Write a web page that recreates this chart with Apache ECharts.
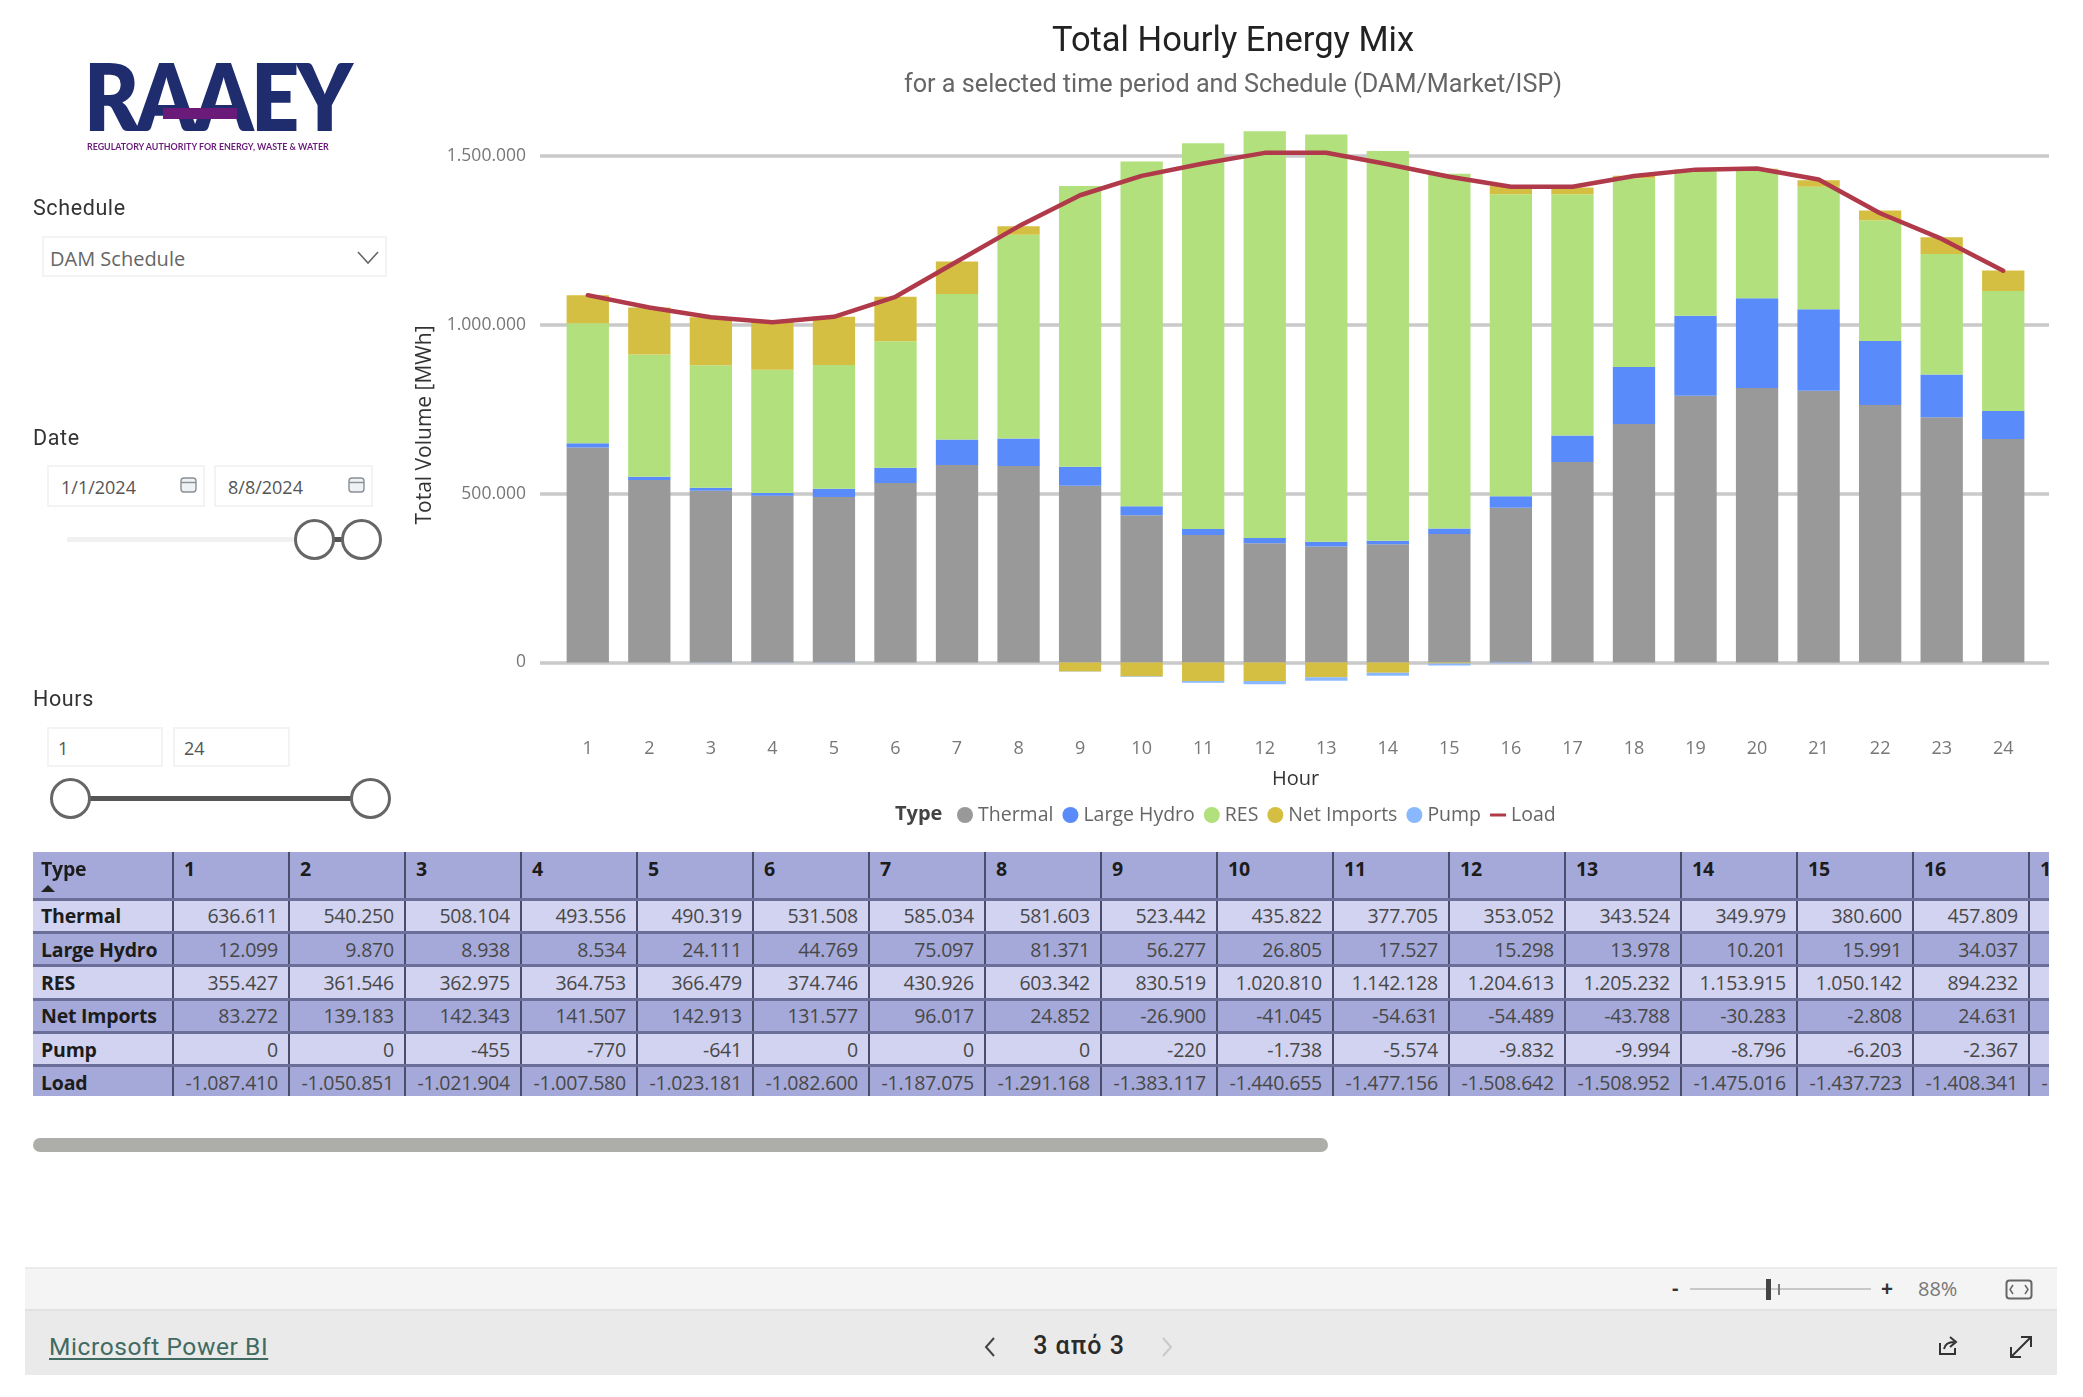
<!DOCTYPE html>
<html>
<head>
<meta charset="utf-8">
<title>Total Hourly Energy Mix</title>
<script src="https://cdn.jsdelivr.net/npm/echarts@6/dist/echarts.min.js"></script>
<style>
  html, body { margin: 0; padding: 0; background: #fff; width: 2083px; height: 1397px; overflow: hidden; }
  body { position: relative; font-family: "Open Sans", sans-serif; color: #444; }
  #chart { position: absolute; left: 0; top: 0; width: 2083px; height: 850px; }
  .abs { position: absolute; white-space: nowrap; }
  .slicer-title { font-family: Roboto, sans-serif; font-size: 21.5px; color: #333; letter-spacing: .6px; left: 33px; line-height: 26px; }
  .box { box-sizing: border-box; border: 2px solid #f3f3f3; background: #fff; font-size: 18px; color: #555; display: flex; align-items: center; padding-top: 2px; }
  .knob { box-sizing: border-box; width: 41px; height: 41px; border-radius: 50%; border: 3px solid #666; background: #fff; }
  /* table */
  #tableWrap { position: absolute; left: 33px; top: 852px; width: 2016px; height: 244px; overflow: hidden; }
  #dataTable { border-collapse: collapse; table-layout: fixed; width: 2112px; font-size: 19.5px; letter-spacing: -.2px; }
  #dataTable td, #dataTable th { box-sizing: border-box; padding: 0 10px 0 0; border-right: 2px solid #4a4d6a; border-bottom: 3px solid #6a6e98; height: 33.4px; text-align: right; color: #484848; font-weight: 400; overflow: hidden; white-space: nowrap; }
  #dataTable tr.dark td { background: #a5a9d9; }
  #dataTable tr.light td { background: #d2d3f0; }
  #dataTable tr:last-child td { border-bottom: none; height: 32px; }
  #dataTable th { background: #a5a9d9; height: 47px; text-align: left; vertical-align: top; padding: 3px 0 0 10px; font-weight: 700; color: #1c1c1c; }
  #dataTable .first { text-align: left; padding-left: 8px; font-weight: 700; color: #1c1c1c; }
  #dataTable th.first { position: relative; }
  .sort { position: absolute; left: 8px; top: 33px; width: 0; height: 0; border-left: 7px solid transparent; border-right: 7px solid transparent; border-bottom: 7px solid #222; }
</style>
</head>
<body>

<div id="chart"></div>

<!-- logo -->
<div class="abs" style="left:84px;top:45px;font:800 93px/100px Lato,sans-serif;color:#1f2d6e;letter-spacing:-3px;transform:scaleX(.905);transform-origin:left">RAAEY</div>
<div class="abs" style="left:163px;top:108px;width:74px;height:11px;background:#6a1b7a"></div>
<div class="abs" style="left:87px;top:141px;font:700 8.9px/12px Lato,sans-serif;color:#6a1b7a">REGULATORY AUTHORITY FOR ENERGY, WASTE &amp; WATER</div>

<!-- schedule -->
<div class="abs slicer-title" style="top:195px">Schedule</div>
<div class="abs box" style="left:42px;top:236px;width:345px;height:41px;padding-left:6px;padding-top:4px;font-size:20px;color:#666">DAM Schedule</div>
<svg class="abs" style="left:356px;top:250px" width="24" height="16"><path d="M2 2 L12 13 L22 2" fill="none" stroke="#666" stroke-width="1.6"/></svg>

<!-- date -->
<div class="abs slicer-title" style="top:425px">Date</div>
<div class="abs box" style="left:47px;top:465px;width:158px;height:42px;padding-left:12px">1/1/2024</div>
<div class="abs box" style="left:214px;top:465px;width:159px;height:42px;padding-left:12px">8/8/2024</div>
<svg class="abs" style="left:180px;top:477px" width="17" height="16"><rect x="1" y="1" width="15" height="14" rx="3" fill="#eef2f4" stroke="#8a8f96" stroke-width="1.4"/><path d="M1 5.5H16" stroke="#8a8f96" stroke-width="1.4"/></svg>
<svg class="abs" style="left:348px;top:477px" width="17" height="16"><rect x="1" y="1" width="15" height="14" rx="3" fill="#eef2f4" stroke="#8a8f96" stroke-width="1.4"/><path d="M1 5.5H16" stroke="#8a8f96" stroke-width="1.4"/></svg>
<div class="abs" style="left:67px;top:537px;width:230px;height:5px;background:#f1f1f1"></div>
<div class="abs" style="left:330px;top:537px;width:20px;height:5px;background:#555"></div>
<div class="abs knob" style="left:294px;top:519px"></div>
<div class="abs knob" style="left:341px;top:519px"></div>

<!-- hours -->
<div class="abs slicer-title" style="top:686px">Hours</div>
<div class="abs box" style="left:47px;top:727px;width:116px;height:40px;padding-left:9px">1</div>
<div class="abs box" style="left:173px;top:727px;width:117px;height:40px;padding-left:9px">24</div>
<div class="abs" style="left:85px;top:796px;width:270px;height:5px;background:#555"></div>
<div class="abs knob" style="left:50px;top:778px"></div>
<div class="abs knob" style="left:350px;top:778px"></div>

<!-- table -->
<div id="tableWrap"><table id="dataTable"></table></div>
<div class="abs" style="left:33px;top:1138px;width:1295px;height:14px;border-radius:7px;background:#adadaa"></div>

<!-- bottom bars -->
<div class="abs" style="left:25px;top:1267px;width:2032px;height:42px;background:#f4f4f4;border-top:2px solid #ebebeb;box-sizing:border-box"></div>
<div class="abs" style="left:25px;top:1309px;width:2032px;height:66px;background:#eaeaea;border-top:2px solid #e2e2e2;box-sizing:border-box"></div>
<div class="abs" style="left:1672px;top:1274px;font-size:20px;line-height:28px;color:#333;font-weight:700">-</div>
<div class="abs" style="left:1690px;top:1288px;width:181px;height:2px;background:#c8c8c8"></div>
<div class="abs" style="left:1766px;top:1279px;width:5px;height:21px;background:#444"></div>
<div class="abs" style="left:1778px;top:1284px;width:2px;height:11px;background:#777"></div>
<div class="abs" style="left:1881px;top:1274px;font-size:21px;line-height:28px;color:#333;font-weight:700">+</div>
<div class="abs" style="left:1918px;top:1276px;font-size:20px;line-height:26px;color:#777">88%</div>
<svg class="abs" style="left:2005px;top:1279px" width="28" height="21"><rect x="1.5" y="1.5" width="25" height="18" rx="3" fill="none" stroke="#666" stroke-width="2"/><path d="M8 6 L5 10.5 L8 15 M20 6 L23 10.5 L20 15" fill="none" stroke="#666" stroke-width="1.5"/></svg>
<div class="abs" style="left:49px;top:1331px;font:24.5px/32px Roboto,sans-serif;letter-spacing:.6px;color:#3f6b63;text-decoration:underline;text-underline-offset:3px">Microsoft Power BI</div>
<svg class="abs" style="left:983px;top:1335px" width="14" height="24"><path d="M11 3 L3 12 L11 21" fill="none" stroke="#444" stroke-width="2"/></svg>
<div class="abs" style="left:1029px;top:1331px;width:100px;text-align:center;font:500 25px/30px Roboto,sans-serif;letter-spacing:1px;color:#2b2b2b">3 από 3</div>
<svg class="abs" style="left:1160px;top:1335px" width="14" height="24"><path d="M3 3 L11 12 L3 21" fill="none" stroke="#c9c9c9" stroke-width="2"/></svg>
<svg class="abs" style="left:1936px;top:1334px" width="24" height="24"><path d="M4 9 V20 H19 V14" fill="none" stroke="#333" stroke-width="2"/><path d="M8 15 C9 10 13 8 18 8 M14 3 L20 8 L14 13" fill="none" stroke="#333" stroke-width="2"/></svg>
<svg class="abs" style="left:2008px;top:1334px" width="26" height="26"><path d="M3 23 L23 3 M13 3 H23 V13 M3 13 V23 H13" fill="none" stroke="#333" stroke-width="2"/></svg>

<script>
// x axis
var hours = ['1', '2', '3', '4', '5', '6', '7', '8', '9', '10', '11', '12', '13', '14', '15', '16', '17', '18', '19', '20', '21', '22', '23', '24'];
var thermal = [636611, 540250, 508104, 493556, 490319, 531508, 585034, 581603, 523442, 435822, 377705, 353052, 343524, 349979, 380600, 457809, 593700, 706000, 790000, 812600, 804400, 762300, 726000, 661600];
var largeHydro = [12099, 9870, 8938, 8534, 24111, 44769, 75097, 81371, 56277, 26805, 17527, 15298, 13978, 10201, 15991, 34037, 78400, 168600, 236500, 265800, 241300, 189700, 126500, 83000];
var res = [355427, 361546, 362975, 364753, 366479, 374746, 430926, 603342, 830519, 1020810, 1142128, 1204613, 1205232, 1153915, 1050142, 894232, 714000, 558600, 428600, 380000, 363000, 357000, 357000, 354800];
var netImports = [83272, 139183, 142343, 141507, 142913, 131577, 96017, 24852, -26900, -41045, -54631, -54489, -43788, -30283, -2808, 24631, 20000, 8000, 4000, 3000, 18700, 29300, 49000, 61000];
var pump = [0, 0, -455, -770, -641, 0, 0, 0, -220, -1738, -5574, -9832, -9994, -8796, -6203, -2367, 0, 0, 0, 0, 0, 0, 0, 0];
var load = [1087410, 1050851, 1021904, 1007580, 1023181, 1082600, 1187075, 1291168, 1383117, 1440655, 1477156, 1508642, 1508952, 1475016, 1437723, 1408341, 1408600, 1440000, 1459000, 1462500, 1429700, 1330000, 1254000, 1160000];

var yTicks = [0, 500000, 1000000, 1500000];
var tableColumns = 17; // the table is cut off by its scrollbar in the 17th hour

// 1.500.000 style numbers
function fmt(v) {
  var s = String(Math.abs(v)).replace(/\B(?=(\d{3})+(?!\d))/g, '.');
  return v < 0 ? '-' + s : s;
}

// table under the chart
function buildTable() {
  var rows = [
    ['Thermal', thermal, 1],
    ['Large Hydro', largeHydro, 1],
    ['RES', res, 1],
    ['Net Imports', netImports, 1],
    ['Pump', pump, 1],
    ['Load', load, -1] // the table lists load as negative
  ];
  var html = '<colgroup><col style="width:140px">';
  for (var c = 0; c < tableColumns; c++) html += '<col style="width:116px">';
  html += '</colgroup><tr><th class="first">Type<span class="sort"></span></th>';
  for (var i = 0; i < tableColumns; i++) html += '<th>' + hours[i] + '</th>';
  html += '</tr>';
  rows.forEach(function (row, r) {
    html += '<tr class="' + (r % 2 ? 'dark' : 'light') + '"><td class="first">' + row[0] + '</td>';
    for (var i = 0; i < tableColumns; i++) html += '<td>' + fmt(row[1][i] * row[2]) + '</td>';
    html += '</tr>';
  });
  document.getElementById('dataTable').innerHTML = html;
}
buildTable();

function barSeries(name, data, color) {
  return {
    name: name,
    type: 'bar',
    stack: 'mix',
    xAxisIndex: 1,
    yAxisIndex: 1,
    barWidth: 42.3,
    data: data,
    itemStyle: { color: color }
  };
}

var chart = echarts.init(document.getElementById('chart'));
var option = {
  animation: false,
  textStyle: { fontFamily: '"Open Sans", sans-serif' },
  title: [
    { text: 'Total Hourly Energy Mix', left: 1228, top: 20, textAlign: 'center',
      textStyle: { fontFamily: 'Roboto', fontWeight: 400, fontSize: 34.5, color: '#222' } },
    { text: 'for a selected time period and Schedule (DAM/Market/ISP)', left: 1228, top: 68, textAlign: 'center',
      textStyle: { fontFamily: 'Roboto', fontWeight: 400, fontSize: 25.2, color: '#666' } }
  ],
  // the first grid only carries the gridlines, they run wider than the bars
  grid: [
    { left: 540, width: 1509, top: 155.6, height: 506.9 },
    { left: 557, width: 1477, top: 122, height: 591.2 }
  ],
  xAxis: [
    { gridIndex: 0, type: 'value', min: 0, max: 1, show: false },
    {
      gridIndex: 1,
      type: 'category',
      data: hours,
      name: 'Hour',
      nameLocation: 'middle',
      nameGap: 56,
      nameTextStyle: { fontSize: 20, color: '#333' },
      axisLine: { show: false },
      axisTick: { show: false },
      axisLabel: { margin: 27, fontSize: 18, color: '#777', interval: 0 }
    }
  ],
  yAxis: [
    {
      gridIndex: 0,
      type: 'value',
      min: yTicks[0],
      max: yTicks[yTicks.length - 1],
      interval: yTicks[1],
      axisLine: { show: false },
      axisTick: { show: false },
      axisLabel: { margin: 14, fontSize: 17.5, color: '#777', padding: [2, 0, 0, 0], formatter: fmt },
      splitLine: { lineStyle: { color: '#c9c9c9', width: 3.5 } }
    },
    { gridIndex: 1, type: 'value', min: -150000, max: 1600000, show: false }
  ],
  legend: {
    left: 952,
    top: 800,
    itemWidth: 16,
    itemHeight: 16,
    itemGap: 9,
    textStyle: { fontSize: 19.5, color: '#666' },
    data: [
      { name: 'Thermal', icon: 'circle' },
      { name: 'Large Hydro', icon: 'circle' },
      { name: 'RES', icon: 'circle' },
      { name: 'Net Imports', icon: 'circle' },
      { name: 'Pump', icon: 'circle' },
      { name: 'Load', icon: 'path://M0 0H16V3H0Z' }
    ]
  },
  graphic: [
    { type: 'text', x: 425, y: 425, rotation: Math.PI / 2, z: 10,
      style: { text: 'Total Volume [MWh]', fontFamily: '"Open Sans"', fontSize: 21, fill: '#333', align: 'center', verticalAlign: 'middle' } },
    { type: 'text', x: 895, y: 814, z: 10,
      style: { text: 'Type', fontFamily: '"Open Sans"', fontSize: 20, fontWeight: 700, fill: '#444', verticalAlign: 'middle' } }
  ],
  series: [
    barSeries('Thermal', thermal, '#999999'),
    barSeries('Large Hydro', largeHydro, '#598cfa'),
    barSeries('RES', res, '#b1e07c'),
    barSeries('Net Imports', netImports, '#d5bf42'),
    barSeries('Pump', pump, '#8ab8ff'),
    {
      name: 'Load',
      type: 'line',
      xAxisIndex: 1,
      yAxisIndex: 1,
      data: load,
      symbol: 'none',
      z: 5,
      itemStyle: { color: '#b0394a' },
      lineStyle: { color: '#b0394a', width: 4.5, cap: 'round', join: 'round' }
    }
  ]
};
chart.setOption(option);
</script>
</body>
</html>
